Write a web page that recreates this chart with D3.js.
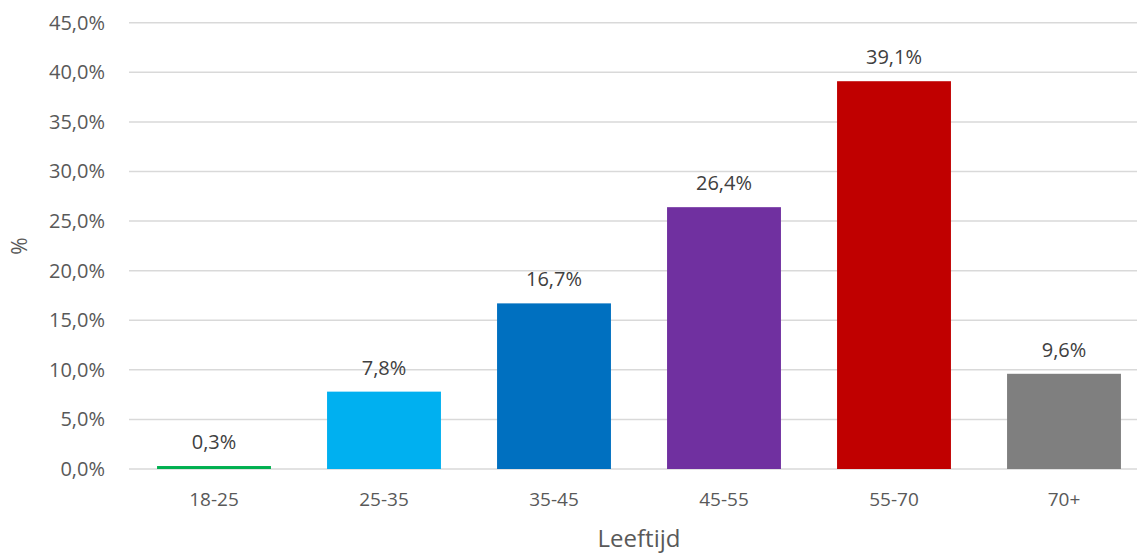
<!DOCTYPE html>
<html><head><meta charset="utf-8">
<script src="https://cdn.jsdelivr.net/npm/d3@7"></script>
<style>body{margin:0;background:#fff}svg{display:block}text{font-family:"Open Sans",sans-serif}</style>
</head><body>
<svg id="c" width="1137" height="553"></svg>
<script>
const categories = ["18-25","25-35","35-45","45-55","55-70","70+"];
const values = [0.3, 7.8, 16.7, 26.4, 39.1, 9.6];
const colors = ["#00B050","#00B0F0","#0070C0","#7030A0","#C00000","#7F7F7F"];
const yTicks = [0,5,10,15,20,25,30,35,40,45];

const svg = d3.select("#c");
const x = d3.scaleBand().domain(categories).range([129,1149]).paddingInner(0.33).paddingOuter(0.165);
const y = d3.scaleLinear().domain([0,45]).range([469,22.7]);
const fmt = v => d3.format(".1f")(v).replace(".", ",") + "%";

svg.append("g").selectAll("line").data(yTicks).join("line")
  .attr("x1",129).attr("x2",1137).attr("y1",d=>y(d)).attr("y2",d=>y(d))
  .attr("stroke","#D9D9D9").attr("stroke-width",1.5);

const yAxis = d3.axisLeft(y).tickValues(yTicks).tickFormat(fmt).tickSize(0).tickPadding(0);
const gy = svg.append("g").attr("transform","translate(105,0)").call(yAxis);
gy.select(".domain").remove();
gy.selectAll("text").attr("font-size",20).attr("fill","#595959").attr("font-family","'Open Sans',sans-serif");

svg.append("g").selectAll("rect").data(values).join("rect")
  .attr("x",(d,i)=>x(categories[i])).attr("width",x.bandwidth())
  .attr("y",d=>y(d)).attr("height",d=>y(0)-y(d))
  .attr("fill",(d,i)=>colors[i]);

svg.append("g").selectAll("text").data(values).join("text")
  .attr("x",(d,i)=>x(categories[i])+x.bandwidth()/2).attr("y",d=>y(d)-17)
  .attr("text-anchor","middle").attr("font-size",20).attr("fill","#404040")
  .text(fmt);

const xAxis = d3.axisBottom(x).tickSize(0).tickPadding(0);
const gx = svg.append("g").attr("transform","translate(0,492)").call(xAxis);
gx.select(".domain").remove();
gx.selectAll("text").attr("font-size",19).attr("fill","#595959").attr("font-family","'Open Sans',sans-serif");

svg.append("text").attr("x",639).attr("y",547).attr("text-anchor","middle")
  .attr("font-size",24).attr("fill","#595959").text("Leeftijd");
svg.append("text").attr("transform","translate(27,246) rotate(-90)").attr("text-anchor","middle")
  .attr("font-size",21).attr("fill","#595959").text("%");
</script>
</body></html>
